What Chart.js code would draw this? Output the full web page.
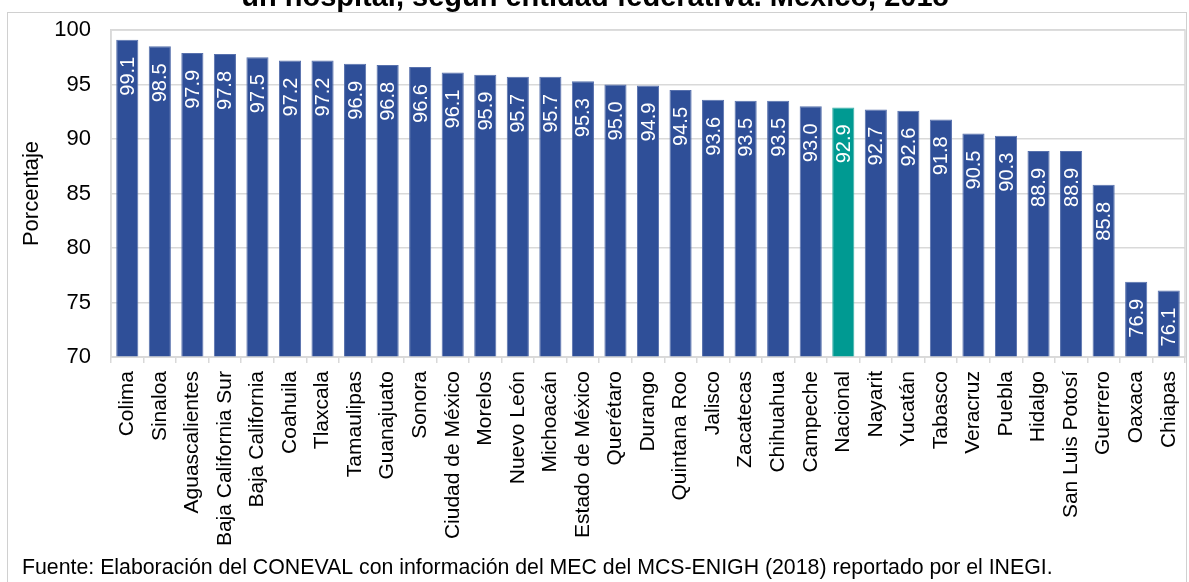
<!DOCTYPE html>
<html lang="es">
<head>
    <meta charset="UTF-8">
    <title>Porcentaje por entidad federativa</title>
    <script src="https://cdn.jsdelivr.net/npm/chart.js"></script>
    <style>
        body, html {
            margin: 0;
            padding: 0;
            background-color: #fff;
            overflow: hidden;
        }
        .chart-container {
            position: relative;
            width: 1189px;
            height: 582px;
        }
    </style>
</head>
<body>
<div class="chart-container">
    <canvas id="myBarChart"></canvas>
</div>

<script>
    // Datos
    const estados = ['Colima', 'Sinaloa', 'Aguascalientes', 'Baja California Sur', 'Baja California',
        'Coahuila', 'Tlaxcala', 'Tamaulipas', 'Guanajuato', 'Sonora', 'Ciudad de México', 'Morelos',
        'Nuevo León', 'Michoacán', 'Estado de México', 'Querétaro', 'Durango', 'Quintana Roo', 'Jalisco',
        'Zacatecas', 'Chihuahua', 'Campeche', 'Nacional', 'Nayarit', 'Yucatán', 'Tabasco', 'Veracruz',
        'Puebla', 'Hidalgo', 'San Luis Potosí', 'Guerrero', 'Oaxaca', 'Chiapas'];
    const porcentajes = [99.1, 98.5, 97.9, 97.8, 97.5, 97.2, 97.2, 96.9, 96.8, 96.6, 96.1, 95.9,
        95.7, 95.7, 95.3, 95.0, 94.9, 94.5, 93.6, 93.5, 93.5, 93.0, 92.9, 92.7, 92.6, 91.8, 90.5,
        90.3, 88.9, 88.9, 85.8, 76.9, 76.1];
    const ticksY = [70, 75, 80, 85, 90, 95, 100];

    const titulo = 'un hospital, según entidad federativa. México, 2018';
    const fuente = 'Fuente: Elaboración del CONEVAL con información del MEC del MCS-ENIGH (2018) reportado por el INEGI.';

    const azul = '#2f4f98';
    const verde = '#009a92';
    const colores = estados.map(e => e === 'Nacional' ? verde : azul);
    const bordes = estados.map(e => e === 'Nacional' ? '#3fb1aa' : '#5871ad');

    // etiquetas de valor dentro de las barras, giradas
    const etiquetasPlugin = {
        id: 'etiquetas',
        afterDatasetsDraw(chart) {
            const ctx = chart.ctx;
            const meta = chart.getDatasetMeta(0);
            ctx.save();
            ctx.fillStyle = '#fff';
            ctx.font = '20px Arial, "Liberation Sans"';
            ctx.textAlign = 'right';
            ctx.textBaseline = 'middle';
            meta.data.forEach((bar, i) => {
                ctx.save();
                ctx.translate(bar.x, bar.y + 17);
                ctx.rotate(-Math.PI / 2);
                ctx.fillText(porcentajes[i].toFixed(1), 0, 1);
                ctx.restore();
            });
            ctx.restore();
        }
    };

    // marco, borde del área, título recortado y fuente
    const marcoPlugin = {
        id: 'marco',
        afterDraw(chart) {
            const ctx = chart.ctx;
            const a = chart.chartArea;
            ctx.save();
            ctx.strokeStyle = '#d9d9d9';
            ctx.lineWidth = 1.5;
            ctx.strokeRect(a.left, a.top, a.right - a.left, a.bottom - a.top);
            ctx.strokeStyle = '#d0d0d0';
            ctx.lineWidth = 1;
            ctx.strokeRect(7.5, 12.5, 1179, 600);

            ctx.fillStyle = '#000';
            ctx.font = 'bold 29px Arial, "Liberation Sans"';
            ctx.textAlign = 'center';
            ctx.textBaseline = 'alphabetic';
            ctx.fillText(titulo, 595, 6);

            ctx.font = '21.3px Arial, "Liberation Sans"';
            ctx.textAlign = 'left';
            ctx.fillText(fuente, 22, 574);
            ctx.restore();
        }
    };

    const ctxBar = document.getElementById('myBarChart').getContext('2d');
    const myBarChart = new Chart(ctxBar, {
        type: 'bar',
        data: {
            labels: estados,
            datasets: [{
                data: porcentajes,
                backgroundColor: colores,
                borderColor: bordes,
                borderWidth: 1,
                barPercentage: 0.68,
                categoryPercentage: 1
            }]
        },
        options: {
            responsive: true,
            maintainAspectRatio: false,
            animation: false,
            layout: {
                padding: {left: 0, right: 4, top: 30, bottom: 0}
            },
            plugins: {
                legend: {display: false},
                tooltip: {enabled: false}
            },
            scales: {
                x: {
                    afterFit: scale => {
                        scale.height = 225;
                        scale.paddingLeft = 0;
                        scale.paddingRight = 0;
                    },
                    grid: {
                        display: true,
                        drawOnChartArea: false,
                        drawTicks: true,
                        tickLength: 6,
                        color: '#d9d9d9',
                        lineWidth: 1.5
                    },
                    border: {color: '#d9d9d9', width: 1.5},
                    ticks: {
                        autoSkip: false,
                        minRotation: 90,
                        maxRotation: 90,
                        padding: 8,
                        color: '#000',
                        font: {family: 'Arial, "Liberation Sans"', size: 21}
                    }
                },
                y: {
                    min: 70,
                    max: 100,
                    afterFit: scale => {
                        scale.width = 111;
                        scale.paddingTop = 0;
                        scale.paddingBottom = 0;
                    },
                    afterBuildTicks: scale => { scale.ticks = ticksY.map(v => ({value: v})); },
                    grid: {
                        color: '#d9d9d9',
                        lineWidth: 1.5,
                        drawTicks: false
                    },
                    border: {display: true, color: '#d9d9d9', width: 1.5},
                    ticks: {
                        padding: 20,
                        color: '#000',
                        font: {family: 'Arial, "Liberation Sans"', size: 22}
                    },
                    title: {
                        display: true,
                        text: 'Porcentaje',
                        color: '#000',
                        padding: {top: 19, bottom: 0},
                        font: {family: 'Arial, "Liberation Sans"', size: 22}
                    }
                }
            }
        },
        plugins: [etiquetasPlugin, marcoPlugin]
    });
</script>
</body>
</html>
